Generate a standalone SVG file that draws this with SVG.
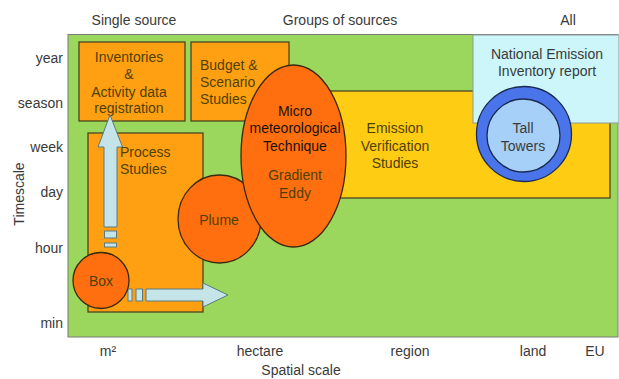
<svg xmlns="http://www.w3.org/2000/svg" width="619" height="379" viewBox="0 0 619 379">
<style>
text{font-family:"Liberation Sans",Arial,sans-serif;font-size:14px}
.ax{fill:#3a3a3a}
.bt{fill:#4f4000}
.ob{fill:#ffa012;stroke:#4a4520;stroke-width:1.3}
.oe{fill:#ff6f10;stroke:#3a2a10;stroke-width:1.3}
.ar{fill:#c4e4e8;stroke:#5a7a80;stroke-width:1}
.c{text-anchor:middle}
</style>
<rect x="0" y="0" width="619" height="379" fill="#ffffff"/>
<g id="axes">
<text class="ax c" x="134" y="25">Single source</text>
<text class="ax c" x="340" y="25">Groups of sources</text>
<text class="ax c" x="568" y="25">All</text>
<g text-anchor="end">
<text class="ax" x="63" y="63">year</text>
<text class="ax" x="63" y="108">season</text>
<text class="ax" x="63" y="152">week</text>
<text class="ax" x="63" y="197">day</text>
<text class="ax" x="63" y="253">hour</text>
<text class="ax" x="63" y="328">min</text>
</g>
<text class="ax c" transform="translate(24,194) rotate(-90)">Timescale</text>
<text class="ax c" x="108" y="356">m²</text>
<text class="ax c" x="260" y="356">hectare</text>
<text class="ax c" x="410" y="356">region</text>
<text class="ax c" x="533" y="356">land</text>
<text class="ax c" x="595" y="356">EU</text>
<text class="ax c" x="301" y="375">Spatial scale</text>
</g>
<g id="background">
<rect x="68" y="34.5" width="550" height="302.5" fill="#9bd65d" stroke="#7a7a7a" stroke-width="1"/>
</g>
<g id="inventories">
<rect class="ob" x="79" y="42" width="106" height="79"/>
<text class="bt c" x="129" y="62">Inventories</text>
<text class="bt c" x="129" y="79">&amp;</text>
<text class="bt c" x="129" y="97">Activity data</text>
<text class="bt c" x="129" y="113">registration</text>
</g>
<g id="budget">
<rect class="ob" x="191" y="42" width="98" height="79"/>
<text class="bt" x="200" y="70">Budget &amp;</text>
<text class="bt" x="200" y="87">Scenario</text>
<text class="bt" x="200" y="104">Studies</text>
</g>
<g id="emission-verification">
<rect x="300" y="91" width="310" height="107" fill="#ffcc14" stroke="#4a4520" stroke-width="1.3"/>
<text class="bt c" x="395" y="133">Emission</text>
<text class="bt c" x="395" y="151">Verification</text>
<text class="bt c" x="395" y="168">Studies</text>
</g>
<g id="national-inventory">
<rect x="473" y="35" width="146" height="88" fill="#ccf6fa" stroke="#8a9a9a" stroke-width="1"/>
<text class="ax c" x="547" y="59">National Emission</text>
<text class="ax c" x="547" y="76">Inventory report</text>
</g>
<g id="process">
<rect class="ob" x="88" y="133" width="115" height="179"/>
<text class="bt" x="120" y="157">Process</text>
<text class="bt" x="120" y="174">Studies</text>
</g>
<g id="connectors">
<path class="ar" d="M104,227 V147 H98 L110,115 L122.5,147 H117 V227 Z"/>
<rect class="ar" x="104.5" y="231" width="12" height="7"/>
<rect class="ar" x="104.5" y="243" width="12" height="4"/>
<path class="ar" d="M146,289 H203 V283 L228,295 L203,307 V301 H146 Z"/>
<rect class="ar" x="128" y="289" width="4" height="12"/>
<rect class="ar" x="136" y="289" width="6.5" height="12"/>
</g>
<g id="plume">
<ellipse class="oe" cx="219.5" cy="219" rx="41.5" ry="44"/>
<text class="bt c" x="219" y="225">Plume</text>
</g>
<g id="micro">
<ellipse class="oe" cx="293.5" cy="156" rx="52.5" ry="91"/>
<text class="c" x="295" y="116" fill="#1a1208">Micro</text>
<text class="c" x="295" y="133" fill="#1a1208">meteorological</text>
<text class="c" x="295" y="151" fill="#1a1208">Technique</text>
<text class="bt c" x="295" y="180">Gradient</text>
<text class="bt c" x="295" y="198">Eddy</text>
</g>
<g id="box">
<circle class="oe" cx="101" cy="280.5" r="28"/>
<text class="bt c" x="101" y="286">Box</text>
</g>
<g id="tall-towers">
<circle cx="524" cy="134" r="47.5" fill="#4a74ea" stroke="#1a2a50" stroke-width="1.3"/>
<circle cx="523.5" cy="135.5" r="36.5" fill="#a6d0f7" stroke="#1a2a50" stroke-width="1.3"/>
<text class="ax c" x="523" y="133">Tall</text>
<text class="ax c" x="523" y="151">Towers</text>
</g>
</svg>
